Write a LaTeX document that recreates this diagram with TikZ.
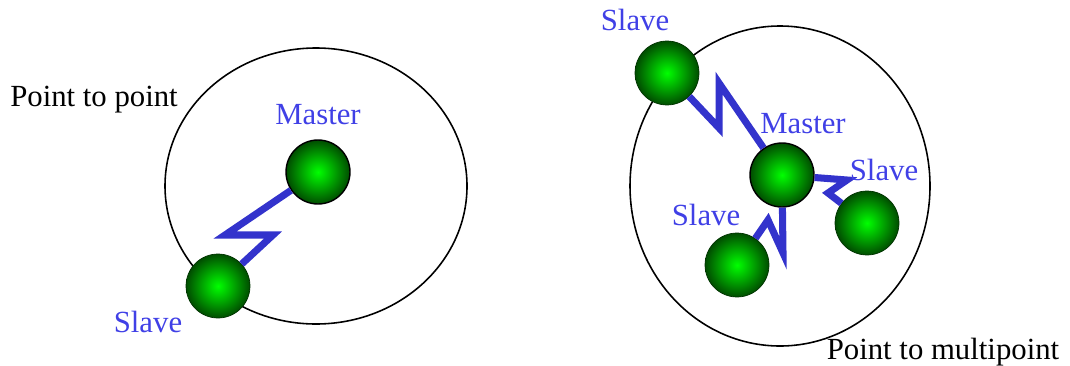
\documentclass[tikz,border=0pt]{standalone}
\usepackage{fontspec}
\setmainfont{Liberation Serif}
\usepackage{tikz}
\usetikzlibrary{positioning}

\begin{document}
\begin{tikzpicture}[x=0.02cm, y=-0.02cm,
    ball/.style={circle, minimum size=1.28cm, inner sep=0pt, draw=green!20!black, line width=0.4pt,
                 inner color=green, outer color=green!30!black},
    master/.style={ball, draw=black, line width=0.8pt},
    cell/.style={draw=black, line width=0.9pt},
    zig/.style={draw={rgb,255:red,51;green,51;blue,204}, line width=4pt, line join=miter},
    lbl/.style={font=\fontsize{17.5}{20}\selectfont, text={rgb,255:red,64;green,64;blue,230}, inner sep=0pt},
    title/.style={font=\fontsize{17.5}{20}\selectfont, inner sep=0pt}
]
\useasboundingbox (0,0) rectangle (1070,365);

% Coverage areas
\draw[cell] (316,186) ellipse (151 and 138);
\draw[cell] (780,186) ellipse (150 and 160);

% Point to point
\node[master] (m1) at (318,172) {};
\node[ball] (s1) at (218,286) {};
\draw[zig] (m1) -- (225,235) -- (273,235) -- (s1);
\node[lbl] (lm1) at (318,115) {Master};
\node[lbl] (ls1) at (148,322) {Slave};
\node[title] (t1) at (94,100) {Point to point};

% Point to multipoint
\node[master] (m2) at (782,175) {};
\node[ball] (s2) at (667,73) {};
\node[ball] (s3) at (867,223) {};
\node[ball] (s4) at (737,265) {};
\draw[zig] (s2) -- (719,128) -- (719,83) -- (m2);
\draw[zig] (m2) -- (847,180) -- (828,193) -- (s3);
\draw[zig] (m2) -- (783,253) -- (768,220) -- (s4);
\node[lbl] (lm2) at (803,124) {Master};
\node[lbl] (ls2) at (635,20) {Slave};
\node[lbl] (ls3) at (884,170) {Slave};
\node[lbl] (ls4) at (706,215) {Slave};
\node[title] (t2) at (943,352) {Point to multipoint};
\end{tikzpicture}
\end{document}
